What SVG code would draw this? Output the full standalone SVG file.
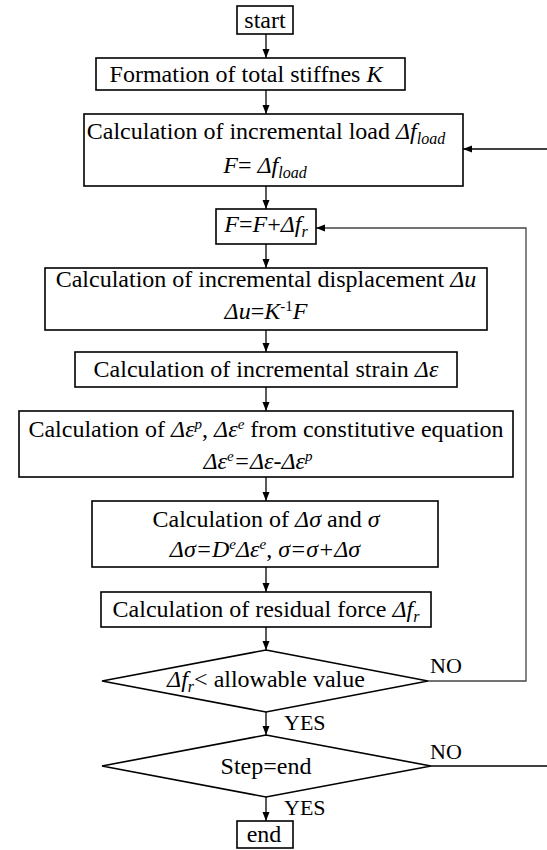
<svg xmlns="http://www.w3.org/2000/svg" width="547" height="850" viewBox="0 0 547 850" font-family="'Liberation Serif', 'Times New Roman', serif">
<style>
.box{fill:#fff;stroke:#000;stroke-width:1.6}
.t{font-size:24px;fill:#000;text-anchor:middle}
.l{font-size:22px;fill:#000}
.i{font-style:italic}
.s{font-size:16px}
.p{font-size:15px}
.c{fill:none;stroke:#000;stroke-width:1.3}
.loop{fill:none;stroke:#444;stroke-width:1.3}
</style>
<defs>
<marker id="ah" markerWidth="9" markerHeight="8" refX="9" refY="4" orient="auto" markerUnits="userSpaceOnUse">
<path d="M0,0.5 L9,4 L0,7.5 Z" fill="#000"/>
</marker>
</defs>
<g id="connectors">
<line class="c" x1="266" y1="34" x2="266" y2="58" marker-end="url(#ah)"/>
<line class="c" x1="266" y1="90" x2="266" y2="114" marker-end="url(#ah)"/>
<line class="c" x1="266" y1="186" x2="266" y2="209" marker-end="url(#ah)"/>
<line class="c" x1="266" y1="244" x2="266" y2="268" marker-end="url(#ah)"/>
<line class="c" x1="266" y1="330" x2="266" y2="352" marker-end="url(#ah)"/>
<line class="c" x1="266" y1="387" x2="266" y2="411" marker-end="url(#ah)"/>
<line class="c" x1="266" y1="477" x2="266" y2="501" marker-end="url(#ah)"/>
<line class="c" x1="266" y1="567" x2="266" y2="592" marker-end="url(#ah)"/>
<line class="c" x1="266" y1="627" x2="266" y2="650" marker-end="url(#ah)"/>
<line class="c" x1="266" y1="712" x2="266" y2="735" marker-end="url(#ah)"/>
<line class="c" x1="266" y1="797" x2="266" y2="821" marker-end="url(#ah)"/>
<polyline class="loop" points="428,681 526,681 526,228 316,228" marker-end="url(#ah)"/>
<line class="c" x1="431" y1="766" x2="547" y2="766"/>
<line class="c" x1="547" y1="149" x2="463" y2="149" marker-end="url(#ah)"/>
<text class="l" x="430" y="673">NO</text>
<text class="l" x="430" y="759">NO</text>
<text class="l" x="284" y="730">YES</text>
<text class="l" x="284" y="815">YES</text>
</g>
<g id="start">
<rect class="box" x="237" y="6" width="56" height="28"/>
<text class="t" x="265" y="28">start</text>
</g>
<g id="stiffness">
<rect class="box" x="96" y="58" width="309" height="32"/>
<text class="t" x="246" y="82">Formation of total stiffnes <tspan class="i">K</tspan></text>
</g>
<g id="load">
<rect class="box" x="84" y="114" width="379" height="72"/>
<text class="t" x="266" y="139">Calculation of incremental load <tspan class="i">Δf<tspan class="s" dy="5">load</tspan></tspan></text>
<text class="t" x="265" y="173"><tspan class="i">F</tspan>= <tspan class="i">Δf<tspan class="s" dy="5">load</tspan></tspan></text>
</g>
<g id="update">
<rect class="box" x="216" y="209" width="100" height="35"/>
<text class="t" x="266" y="232"><tspan class="i">F</tspan>=<tspan class="i">F</tspan>+<tspan class="i">Δf<tspan class="s" dy="5">r</tspan></tspan></text>
</g>
<g id="displacement">
<rect class="box" x="45" y="268" width="442" height="62"/>
<text class="t" x="266" y="287">Calculation of incremental displacement <tspan class="i">Δu</tspan></text>
<text class="t" x="266" y="319"><tspan class="i">Δu</tspan>=<tspan class="i">K</tspan><tspan class="p" dy="-8">-1</tspan><tspan class="i" dy="8">F</tspan></text>
</g>
<g id="strain">
<rect class="box" x="75" y="352" width="382" height="35"/>
<text class="t" x="266" y="377">Calculation of incremental strain <tspan class="i">Δε</tspan></text>
</g>
<g id="constitutive">
<rect class="box" x="19" y="411" width="494" height="66"/>
<text class="t" x="266" y="437">Calculation of <tspan class="i">Δε</tspan><tspan class="p i" dy="-8">p</tspan><tspan dy="8">, </tspan><tspan class="i">Δε</tspan><tspan class="p i" dy="-8">e</tspan><tspan dy="8"> from constitutive equation</tspan></text>
<text class="t" x="258" y="469"><tspan class="i">Δε</tspan><tspan class="p i" dy="-8">e</tspan><tspan class="i" dy="8">=Δε-Δε</tspan><tspan class="p i" dy="-8">p</tspan></text>
</g>
<g id="stress">
<rect class="box" x="92" y="501" width="346" height="66"/>
<text class="t" x="266" y="527">Calculation of <tspan class="i">Δσ</tspan> and <tspan class="i">σ</tspan></text>
<text class="t" x="265" y="557"><tspan class="i">Δσ=D</tspan><tspan class="p i" dy="-8">e</tspan><tspan class="i" dy="8">Δε</tspan><tspan class="p i" dy="-8">e</tspan><tspan dy="8">, </tspan><tspan class="i">σ=σ+Δσ</tspan></text>
</g>
<g id="residual">
<rect class="box" x="101" y="592" width="330" height="35"/>
<text class="t" x="266" y="617">Calculation of residual force <tspan class="i">Δf<tspan class="s" dy="5">r</tspan></tspan></text>
</g>
<g id="check">
<polygon class="box" points="266,650 428,681 266,712 102,681"/>
<text class="t" x="266" y="687"><tspan class="i">Δf<tspan class="s" dy="5">r</tspan></tspan><tspan dy="-5">&lt; allowable value</tspan></text>
</g>
<g id="stepend">
<polygon class="box" points="266,735 431,766 266,797 102,766"/>
<text class="t" x="266" y="774">Step=end</text>
</g>
<g id="end">
<rect class="box" x="237" y="821" width="56" height="27"/>
<text class="t" x="264" y="842">end</text>
</g>
</svg>
